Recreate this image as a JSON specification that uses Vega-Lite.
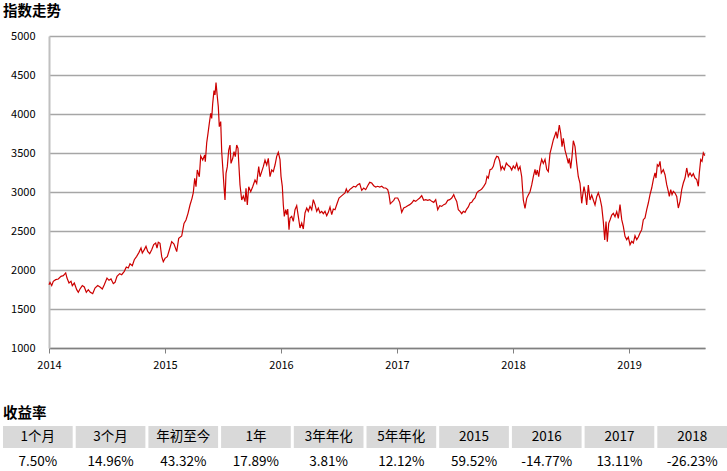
{
  "$schema": "https://vega.github.io/schema/vega-lite/v6.json",
  "padding": {"left": 3, "top": 3, "right": 0, "bottom": 0},
  "spacing": 35,
  "background": "#ffffff",
  "config": {
    "view": {"stroke": null},
    "font": "Noto Sans CJK SC",
    "axis": {"labelFont": "Noto Sans CJK SC", "labelFontSize": 11, "labelColor": "#000000"},
    "title": {"font": "Noto Sans CJK SC", "fontSize": 14.5, "fontWeight": "bold", "color": "#000000", "anchor": "start", "frame": "group", "dx": -46}
  },
  "vconcat": [
    {
      "width": 656,
      "height": 312,
      "title": {"text": "指数走势", "offset": 11},
      "data": {"values": [
        {"t":2014.0000,"v":1812},{"t":2014.0086,"v":1842},{"t":2014.0233,"v":1800},{"t":2014.0371,"v":1855},{"t":2014.0578,"v":1876},{"t":2014.0802,"v":1885},{"t":2014.1034,"v":1919},{"t":2014.1233,"v":1927},{"t":2014.1440,"v":1962},{"t":2014.1552,"v":1897},{"t":2014.1724,"v":1833},{"t":2014.1897,"v":1855},{"t":2014.2009,"v":1800},{"t":2014.2181,"v":1833},{"t":2014.2388,"v":1748},{"t":2014.2526,"v":1714},{"t":2014.2672,"v":1756},{"t":2014.2871,"v":1800},{"t":2014.3043,"v":1782},{"t":2014.3216,"v":1714},{"t":2014.3388,"v":1748},{"t":2014.3560,"v":1714},{"t":2014.3767,"v":1697},{"t":2014.3966,"v":1769},{"t":2014.4198,"v":1800},{"t":2014.4397,"v":1782},{"t":2014.4595,"v":1756},{"t":2014.4767,"v":1812},{"t":2014.5000,"v":1897},{"t":2014.5172,"v":1868},{"t":2014.5345,"v":1885},{"t":2014.5543,"v":1825},{"t":2014.5690,"v":1842},{"t":2014.5862,"v":1919},{"t":2014.6095,"v":1953},{"t":2014.6267,"v":1940},{"t":2014.6491,"v":1983},{"t":2014.6664,"v":2038},{"t":2014.6836,"v":2026},{"t":2014.6983,"v":2081},{"t":2014.7181,"v":2055},{"t":2014.7353,"v":2132},{"t":2014.7560,"v":2175},{"t":2014.7759,"v":2226},{"t":2014.7931,"v":2282},{"t":2014.8043,"v":2218},{"t":2014.8216,"v":2261},{"t":2014.8362,"v":2303},{"t":2014.8509,"v":2239},{"t":2014.8681,"v":2209},{"t":2014.8853,"v":2261},{"t":2014.9026,"v":2325},{"t":2014.9198,"v":2346},{"t":2014.9310,"v":2282},{"t":2014.9422,"v":2355},
        {"t":2014.9569,"v":2342},{"t":2014.9716,"v":2171},{"t":2014.9853,"v":2107},{"t":2015.0000,"v":2149},{"t":2015.0198,"v":2171},{"t":2015.0371,"v":2256},{"t":2015.0578,"v":2363},{"t":2015.0776,"v":2333},{"t":2015.1009,"v":2235},{"t":2015.1181,"v":2406},{"t":2015.1440,"v":2436},{"t":2015.1638,"v":2598},{"t":2015.1810,"v":2641},{"t":2015.1983,"v":2726},{"t":2015.2155,"v":2833},{"t":2015.2328,"v":2919},{"t":2015.2440,"v":2991},{"t":2015.2560,"v":3175},{"t":2015.2672,"v":3068},{"t":2015.2784,"v":3282},{"t":2015.2957,"v":3196},{"t":2015.3078,"v":3461},{"t":2015.3250,"v":3410},{"t":2015.3422,"v":3474},{"t":2015.3474,"v":3389},{"t":2015.3595,"v":3632},{"t":2015.3707,"v":3752},{"t":2015.3819,"v":3880},{"t":2015.3940,"v":4008},{"t":2015.4026,"v":3944},{"t":2015.4112,"v":4137},{"t":2015.4224,"v":4299},{"t":2015.4310,"v":4244},{"t":2015.4397,"v":4402},{"t":2015.4509,"v":4222},{"t":2015.4595,"v":4094},{"t":2015.4681,"v":3838},{"t":2015.4802,"v":3902},{"t":2015.4888,"v":3517},{"t":2015.4974,"v":3325},{"t":2015.5086,"v":3068},{"t":2015.5172,"v":2897},{"t":2015.5259,"v":3239},{"t":2015.5371,"v":3325},{"t":2015.5491,"v":3538},{"t":2015.5603,"v":3602},{"t":2015.5690,"v":3367},{"t":2015.5836,"v":3432},{"t":2015.5948,"v":3517},{"t":2015.6060,"v":3453},{"t":2015.6181,"v":3602},{"t":2015.6293,"v":3560},{"t":2015.6353,"v":3389},{"t":2015.6466,"v":3090},{"t":2015.6612,"v":2897},{"t":2015.6750,"v":2949},{"t":2015.6897,"v":2876},{"t":2015.6983,"v":3047},{"t":2015.7095,"v":2833},{"t":2015.7216,"v":3068},{"t":2015.7388,"v":3004},{"t":2015.7560,"v":3068},{"t":2015.7759,"v":3154},{"t":2015.7905,"v":3111},{"t":2015.8078,"v":3325},{"t":2015.8190,"v":3196},{"t":2015.8336,"v":3261},{"t":2015.8474,"v":3325},{"t":2015.8621,"v":3410},{"t":2015.8767,"v":3346},{"t":2015.8905,"v":3432},{"t":2015.9052,"v":3196},{"t":2015.9198,"v":3282},{"t":2015.9336,"v":3261},{"t":2015.9483,"v":3346},
        {"t":2015.9629,"v":3457},{"t":2015.9767,"v":3509},{"t":2015.9914,"v":3415},{"t":2016.0000,"v":3201},{"t":2016.0112,"v":3073},{"t":2016.0198,"v":2837},{"t":2016.0284,"v":2688},{"t":2016.0405,"v":2773},{"t":2016.0491,"v":2709},{"t":2016.0578,"v":2782},{"t":2016.0690,"v":2517},{"t":2016.0776,"v":2667},{"t":2016.0922,"v":2688},{"t":2016.1060,"v":2624},{"t":2016.1207,"v":2773},{"t":2016.1353,"v":2825},{"t":2016.1491,"v":2688},{"t":2016.1638,"v":2538},{"t":2016.1784,"v":2602},{"t":2016.1922,"v":2526},{"t":2016.2069,"v":2731},{"t":2016.2216,"v":2795},{"t":2016.2353,"v":2752},{"t":2016.2500,"v":2816},{"t":2016.2647,"v":2773},{"t":2016.2784,"v":2902},{"t":2016.2931,"v":2838},{"t":2016.3078,"v":2752},{"t":2016.3216,"v":2795},{"t":2016.3362,"v":2731},{"t":2016.3509,"v":2752},{"t":2016.3647,"v":2722},{"t":2016.3793,"v":2752},{"t":2016.3940,"v":2696},{"t":2016.4078,"v":2739},{"t":2016.4224,"v":2808},{"t":2016.4371,"v":2709},{"t":2016.4509,"v":2782},{"t":2016.4655,"v":2773},{"t":2016.4828,"v":2850},{"t":2016.5000,"v":2923},{"t":2016.5172,"v":2944},{"t":2016.5345,"v":2966},{"t":2016.5517,"v":2987},{"t":2016.5629,"v":3038},{"t":2016.5750,"v":2996},{"t":2016.5922,"v":3030},{"t":2016.6095,"v":3051},{"t":2016.6267,"v":3073},{"t":2016.6440,"v":3064},{"t":2016.6612,"v":3094},{"t":2016.6784,"v":3107},{"t":2016.6957,"v":3021},{"t":2016.7129,"v":3051},{"t":2016.7302,"v":3030},{"t":2016.7474,"v":3081},{"t":2016.7647,"v":3124},{"t":2016.7819,"v":3115},{"t":2016.7991,"v":3081},{"t":2016.8164,"v":3064},{"t":2016.8336,"v":3073},{"t":2016.8509,"v":3064},{"t":2016.8681,"v":3073},{"t":2016.8853,"v":3051},{"t":2016.9026,"v":3051},{"t":2016.9198,"v":3030},{"t":2016.9310,"v":2966},{"t":2016.9422,"v":2850},{"t":2016.9543,"v":2867},{"t":2016.9716,"v":2893},
        {"t":2016.9828,"v":2923},{"t":2017.0060,"v":2923},{"t":2017.0233,"v":2867},{"t":2017.0405,"v":2739},{"t":2017.0578,"v":2795},{"t":2017.0750,"v":2808},{"t":2017.0922,"v":2825},{"t":2017.1095,"v":2838},{"t":2017.1267,"v":2859},{"t":2017.1440,"v":2893},{"t":2017.1612,"v":2880},{"t":2017.1784,"v":2902},{"t":2017.1957,"v":2923},{"t":2017.2129,"v":2953},{"t":2017.2302,"v":2893},{"t":2017.2474,"v":2902},{"t":2017.2647,"v":2893},{"t":2017.2819,"v":2902},{"t":2017.2991,"v":2880},{"t":2017.3164,"v":2867},{"t":2017.3336,"v":2902},{"t":2017.3509,"v":2773},{"t":2017.3681,"v":2825},{"t":2017.3853,"v":2816},{"t":2017.4026,"v":2838},{"t":2017.4198,"v":2850},{"t":2017.4371,"v":2893},{"t":2017.4543,"v":2902},{"t":2017.4716,"v":2923},{"t":2017.4888,"v":2966},{"t":2017.5000,"v":2923},{"t":2017.5147,"v":2880},{"t":2017.5284,"v":2773},{"t":2017.5431,"v":2752},{"t":2017.5578,"v":2722},{"t":2017.5716,"v":2752},{"t":2017.5862,"v":2739},{"t":2017.6009,"v":2782},{"t":2017.6147,"v":2808},{"t":2017.6293,"v":2859},{"t":2017.6440,"v":2867},{"t":2017.6578,"v":2902},{"t":2017.6724,"v":2923},{"t":2017.6871,"v":2987},{"t":2017.7009,"v":3009},{"t":2017.7155,"v":3021},{"t":2017.7302,"v":3038},{"t":2017.7474,"v":3073},{"t":2017.7647,"v":3115},{"t":2017.7759,"v":3201},{"t":2017.7871,"v":3179},{"t":2017.8017,"v":3286},{"t":2017.8164,"v":3295},{"t":2017.8302,"v":3329},{"t":2017.8448,"v":3415},{"t":2017.8595,"v":3457},{"t":2017.8733,"v":3449},{"t":2017.8853,"v":3393},{"t":2017.8966,"v":3286},{"t":2017.9078,"v":3329},{"t":2017.9250,"v":3286},{"t":2017.9422,"v":3372},{"t":2017.9595,"v":3338},
        {"t":2017.9741,"v":3325},{"t":2017.9888,"v":3282},{"t":2018.0026,"v":3333},{"t":2018.0172,"v":3303},{"t":2018.0319,"v":3367},{"t":2018.0457,"v":3282},{"t":2018.0603,"v":3325},{"t":2018.0750,"v":3196},{"t":2018.0888,"v":2897},{"t":2018.1034,"v":2790},{"t":2018.1181,"v":2919},{"t":2018.1319,"v":2961},{"t":2018.1466,"v":3004},{"t":2018.1612,"v":3090},{"t":2018.1750,"v":3196},{"t":2018.1897,"v":3291},{"t":2018.1983,"v":3218},{"t":2018.2095,"v":3282},{"t":2018.2216,"v":3196},{"t":2018.2328,"v":3325},{"t":2018.2474,"v":3419},{"t":2018.2612,"v":3367},{"t":2018.2759,"v":3419},{"t":2018.2905,"v":3291},{"t":2018.3043,"v":3261},{"t":2018.3190,"v":3496},{"t":2018.3336,"v":3581},{"t":2018.3474,"v":3667},{"t":2018.3621,"v":3731},{"t":2018.3707,"v":3773},{"t":2018.3819,"v":3688},{"t":2018.3991,"v":3859},{"t":2018.4112,"v":3752},{"t":2018.4224,"v":3581},{"t":2018.4336,"v":3688},{"t":2018.4483,"v":3538},{"t":2018.4629,"v":3453},{"t":2018.4767,"v":3367},{"t":2018.4853,"v":3432},{"t":2018.4974,"v":3303},{"t":2018.5086,"v":3453},{"t":2018.5198,"v":3658},{"t":2018.5345,"v":3581},{"t":2018.5491,"v":3367},{"t":2018.5629,"v":3196},{"t":2018.5776,"v":3111},{"t":2018.5922,"v":2855},{"t":2018.6009,"v":2961},{"t":2018.6121,"v":3068},{"t":2018.6233,"v":2983},{"t":2018.6353,"v":2833},{"t":2018.6491,"v":3090},{"t":2018.6638,"v":2897},{"t":2018.6784,"v":2961},{"t":2018.6922,"v":2897},{"t":2018.7069,"v":2833},{"t":2018.7216,"v":2940},{"t":2018.7353,"v":2991},{"t":2018.7500,"v":2919},{"t":2018.7647,"v":2812},{"t":2018.7784,"v":2620},{"t":2018.7905,"v":2384},{"t":2018.8017,"v":2620},{"t":2018.8129,"v":2363},{"t":2018.8250,"v":2598},{"t":2018.8362,"v":2641},{"t":2018.8509,"v":2705},{"t":2018.8647,"v":2726},{"t":2018.8793,"v":2684},{"t":2018.8940,"v":2748},{"t":2018.9078,"v":2662},
        {"t":2018.9224,"v":2838},{"t":2018.9371,"v":2645},{"t":2018.9509,"v":2560},{"t":2018.9655,"v":2432},{"t":2018.9802,"v":2389},{"t":2018.9940,"v":2423},{"t":2019.0086,"v":2325},{"t":2019.0233,"v":2367},{"t":2019.0371,"v":2346},{"t":2019.0517,"v":2440},{"t":2019.0664,"v":2389},{"t":2019.0802,"v":2423},{"t":2019.0948,"v":2474},{"t":2019.1095,"v":2517},{"t":2019.1233,"v":2645},{"t":2019.1379,"v":2667},{"t":2019.1526,"v":2773},{"t":2019.1664,"v":2859},{"t":2019.1810,"v":2966},{"t":2019.1957,"v":3051},{"t":2019.2095,"v":3158},{"t":2019.2241,"v":3244},{"t":2019.2328,"v":3179},{"t":2019.2440,"v":3350},{"t":2019.2560,"v":3329},{"t":2019.2672,"v":3393},{"t":2019.2784,"v":3244},{"t":2019.2957,"v":3286},{"t":2019.3103,"v":3222},{"t":2019.3250,"v":3094},{"t":2019.3388,"v":3009},{"t":2019.3474,"v":2944},{"t":2019.3595,"v":3030},{"t":2019.3707,"v":2966},{"t":2019.3819,"v":3009},{"t":2019.3966,"v":2987},{"t":2019.4112,"v":2944},{"t":2019.4250,"v":2795},{"t":2019.4397,"v":2880},{"t":2019.4543,"v":3030},{"t":2019.4681,"v":3115},{"t":2019.4828,"v":3179},{"t":2019.4974,"v":3308},{"t":2019.5112,"v":3201},{"t":2019.5259,"v":3244},{"t":2019.5405,"v":3201},{"t":2019.5543,"v":3235},{"t":2019.5690,"v":3179},{"t":2019.5836,"v":3158},{"t":2019.5974,"v":3073},{"t":2019.6060,"v":3244},{"t":2019.6181,"v":3415},{"t":2019.6293,"v":3393},{"t":2019.6405,"v":3500},{"t":2019.6526,"v":3466}
      ]},
      "mark": {"type": "line", "color": "#cc0000", "strokeWidth": 1.2},
      "encoding": {
        "x": {"field": "t", "type": "quantitative",
          "scale": {"domain": [2014, 2019.655], "nice": false, "zero": false},
          "axis": {"title": null, "values": [2014, 2015, 2016, 2017, 2018, 2019], "format": "d", "grid": false, "labelFlush": false,
                   "domainColor": "#808080", "domainWidth": 1.5, "tickColor": "#808080", "tickSize": 5, "tickWidth": 1, "labelPadding": 6}},
        "y": {"field": "v", "type": "quantitative",
          "scale": {"domain": [1000, 5000], "nice": false, "zero": false},
          "axis": {"title": null, "values": [1000, 1500, 2000, 2500, 3000, 3500, 4000, 4500, 5000], "format": "d", "labelFlush": false,
                   "grid": true, "gridColor": "#a6a6a6", "gridWidth": 1.5, "domainColor": "#c0c0c0", "domainWidth": 2,
                   "ticks": false, "labelPadding": 14}}
      }
    },
    {
      "width": 656,
      "height": 44,
      "title": {"text": "收益率", "offset": 5},
      "data": {"values": [
        {"item": "1个月", "ret": "7.50%"},
        {"item": "3个月", "ret": "14.96%"},
        {"item": "年初至今", "ret": "43.32%"},
        {"item": "1年", "ret": "17.89%"},
        {"item": "3年年化", "ret": "3.81%"},
        {"item": "5年年化", "ret": "12.12%"},
        {"item": "2015", "ret": "59.52%"},
        {"item": "2016", "ret": "-14.77%"},
        {"item": "2017", "ret": "13.11%"},
        {"item": "2018", "ret": "-26.23%"}
      ]},
      "encoding": {
        "x": {"field": "item", "type": "nominal", "sort": null, "axis": null,
          "scale": {"type": "band", "domain": ["1个月", "3个月", "年初至今", "1年", "3年年化", "5年年化", "2015", "2016", "2017", "2018"],
                    "range": [-46, 678], "paddingInner": 0.0414, "paddingOuter": 0}}
      },
      "layer": [
        {"mark": {"type": "rect", "color": "#d9d9d9"},
         "encoding": {"y": {"datum": "h", "type": "nominal", "axis": null,
            "scale": {"type": "band", "domain": ["h", "v"], "paddingInner": 0, "paddingOuter": 0}}}},
        {"mark": {"type": "text", "fontSize": 13.5, "color": "#000000", "font": "Noto Sans CJK SC"},
         "encoding": {"y": {"datum": "h", "type": "nominal"}, "text": {"field": "item"}}},
        {"mark": {"type": "text", "fontSize": 13.5, "color": "#000000", "font": "Noto Sans CJK SC", "dy": 2.5},
         "encoding": {"y": {"datum": "v", "type": "nominal"}, "text": {"field": "ret"}}}
      ]
    }
  ]
}
